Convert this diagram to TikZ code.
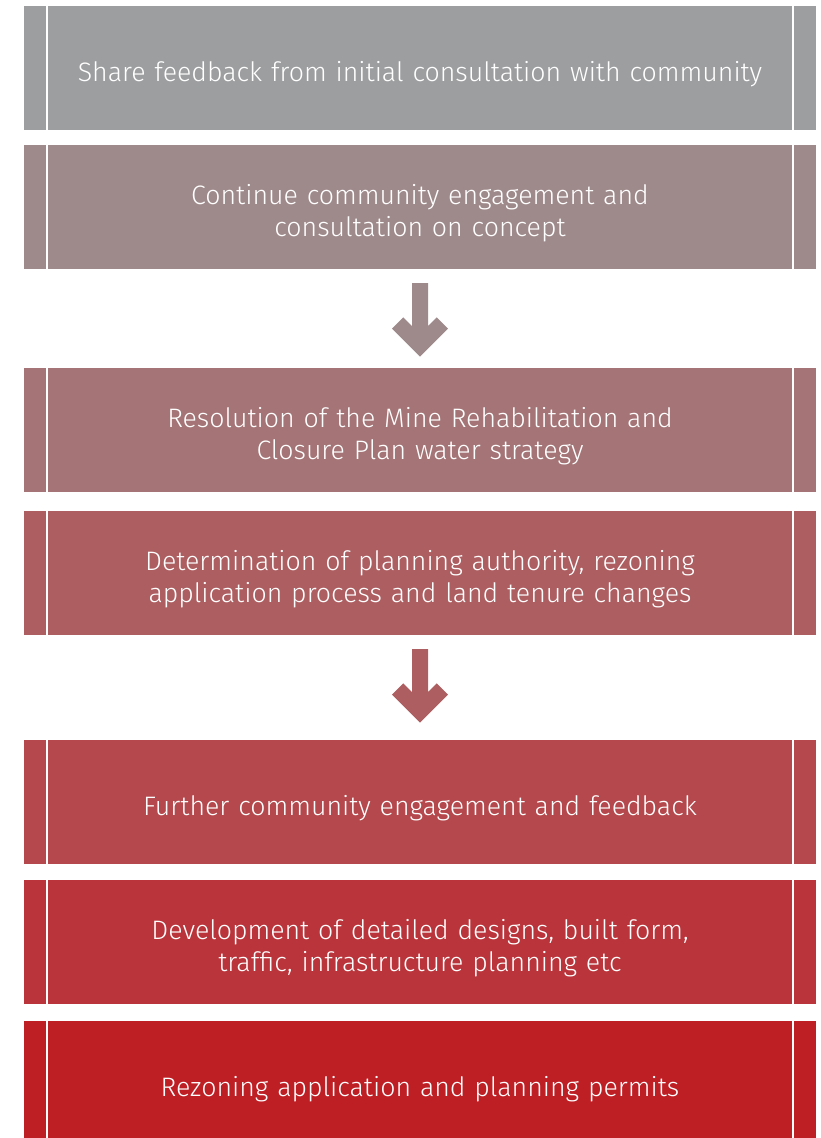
\documentclass[tikz,border=0pt]{standalone}
\usepackage{fontspec}
\setmainfont{Fira Sans Light}
\usetikzlibrary{calc}
\definecolor{cA}{HTML}{9D9EA0}
\definecolor{cB}{HTML}{9F8A8B}
\definecolor{cC}{HTML}{A47476}
\definecolor{cD}{HTML}{AD5E61}
\definecolor{cE}{HTML}{B4484C}
\definecolor{cF}{HTML}{B9353B}
\definecolor{cG}{HTML}{BE1F25}
\tikzset{
  stepbox/.style={rectangle, draw=none, minimum width=792pt, minimum height=124pt,
    inner sep=0pt},
  steptext/.style={inner sep=0pt, text width=760pt, align=center, text=white,
    font=\fontsize{26.7}{32.5}\selectfont},
  divider/.style={white, line width=2pt}
}
\newcommand{\flowarrow}[2]{%
  \fill[#2] ($(#1)+(-8,-37)$) -- ++(16,0) -- ++(0,43.1) -- ++(8.7,-8.7)
    -- ++(11.3,11.3) -- ++(-28,28) -- ++(-28,-28) -- ++(11.3,-11.3)
    -- ++(8.7,8.7) -- cycle;}
\begin{document}
\begin{tikzpicture}[x=1pt,y=-1pt]
\clip (0,0) rectangle (821,1138);
\node[stepbox, fill=cA] (b1) at (420,68) {};
\node[stepbox, fill=cB] (b2) at (420,207) {};
\node[stepbox, fill=cC] (b3) at (420,430) {};
\node[stepbox, fill=cD] (b4) at (420,573) {};
\node[stepbox, fill=cE] (b5) at (420,802) {};
\node[stepbox, fill=cF] (b6) at (420,942) {};
\node[stepbox, fill=cG] (b7) at (420,1083) {};
\node[steptext] (t1) at ([yshift=-6pt]b1.center) {Share feedback from initial consultation with community};
\node[steptext] (t2) at ([yshift=-6pt]b2.center) {Continue community engagement and\\consultation on concept};
\node[steptext] (t3) at ([yshift=-6pt]b3.center) {Resolution of the Mine Rehabilitation and\\Closure Plan water strategy};
\node[steptext] (t4) at ([yshift=-6pt]b4.center) {Determination of planning authority, rezoning\\application process and land tenure changes};
\node[steptext] (t5) at ([yshift=-6pt]b5.center) {Further community engagement and feedback};
\node[steptext] (t6) at ([yshift=-6pt]b6.center) {Development of detailed designs, built form,\\traffic, infrastructure planning etc};
\node[steptext] (t7) at ([yshift=-6pt]b7.center) {Rezoning application and planning permits};
\foreach \b in {b1,b2,b3,b4,b5,b6,b7}{
  \draw[divider] ([xshift=23.5pt]\b.north west) -- ([xshift=23.5pt]\b.south west);
  \draw[divider] ([xshift=-23pt]\b.north east) -- ([xshift=-23pt]\b.south east);
}
\coordinate (a1) at ($(b2.south)!0.5!(b3.north)+(0,1.5)$);
\coordinate (a2) at ($(b4.south)!0.5!(b5.north)+(0,-1.5)$);
\flowarrow{a1}{cB}
\flowarrow{a2}{cD}
\end{tikzpicture}
\end{document}
